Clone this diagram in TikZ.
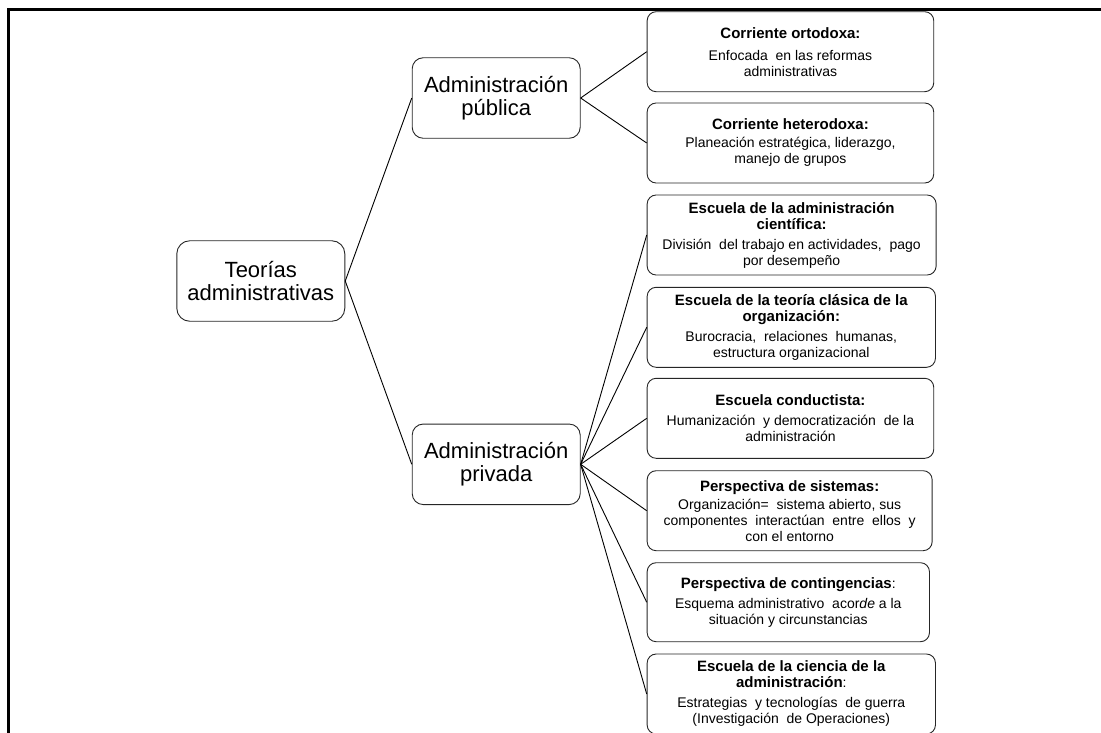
\documentclass[tikz,border=0pt]{standalone}
\usepackage{fontspec}
\setmainfont{Liberation Sans}
\newcommand\ttl[1]{{\fontsize{15}{16}\selectfont\bfseries #1}}
\begin{document}
\begin{tikzpicture}[x=1pt,y=-1pt,
  topic/.style={draw=black!85, line width=0.9pt, rounded corners=11pt,
    align=center, inner sep=0pt, minimum width=168pt, minimum height=80.5pt,
    font=\fontsize{22}{23}\selectfont},
  leaf/.style={draw=black!85, line width=0.9pt, rounded corners=9pt,
    align=center, inner sep=0pt, anchor=west, minimum height=80pt,
    font=\fontsize{14}{16}\selectfont},
  link/.style={line width=0.9pt}]
\useasboundingbox (0,0) rectangle (1101,732);
% page frame
\draw[line width=3pt] (8.5,740) -- (8.5,9.5) -- (1110,9.5);

% main topics
\node[topic, rounded corners=13pt] (root) at (260.8,281) {Teorías\\administrativas};
\node[topic] (pub) at (496.2,98) {Administración\\pública};
\node[topic] (priv) at (496.2,464.3) {Administración\\privada};

% public administration currents
\node[leaf, minimum width=286.6pt] (o1) at (646.7,51.7)
  {\ttl{Corriente ortodoxa:}\\[6pt]Enfocada\ \ en las reformas\\administrativas};
\node[leaf, minimum width=286.6pt] (o2) at (646.7,143)
  {\ttl{Corriente heterodoxa:}\\[2pt]Planeación estratégica, liderazgo,\\manejo de grupos};

% private administration schools
\node[leaf, minimum width=289pt] (s1) at (646.7,235)
  {\ttl{Escuela de la administración}\\\ttl{científica:}\\[4pt]División\ \ del trabajo en actividades,\ \ pago\\por desempeño};
\node[leaf, minimum width=288.3pt] (s2) at (646.7,327.3)
  {\ttl{Escuela de la teoría clásica de la}\\\ttl{organización:}\\[4pt]Burocracia,\ \ relaciones\ \ humanas,\\estructura organizacional};
\node[leaf, minimum width=286.6pt] (s3) at (646.7,418.3)
  {\ttl{Escuela conductista:}\\[4pt]Humanización\ \ y democratización\ \ de la\\administración};
\node[leaf, minimum width=285pt] (s4) at (646.7,510.7)
  {\ttl{Perspectiva de sistemas:}\\[2pt]Organización=\ \ sistema abierto, sus\\componentes\ \ interactúan\ \ entre\ \ ellos\ \ y\\con el entorno};
\node[leaf, minimum width=282.3pt, minimum height=79pt] (s5) at (646.7,602.2)
  {\ttl{Perspectiva de contingencias}:\\[4pt]Esquema administrativo\ \ acor\textit{de} a la\\situación y circunstancias};
\node[leaf, minimum width=288.3pt] (s6) at (646.7,694)
  {\ttl{Escuela de la ciencia de la}\\\ttl{administración}:\\[4pt]Estrategias\ \ y tecnologías\ \ de guerra\\(Investigación\ \ de Operaciones)};

% connectors
\draw[link] (root.east) -- (pub.west);
\draw[link] (root.east) -- (priv.west);
\foreach \n in {o1,o2} \draw[link] (pub.east) -- (\n.west);
\foreach \n in {s1,s2,s3,s4,s5,s6} \draw[link] (priv.east) -- (\n.west);
\end{tikzpicture}
\end{document}
